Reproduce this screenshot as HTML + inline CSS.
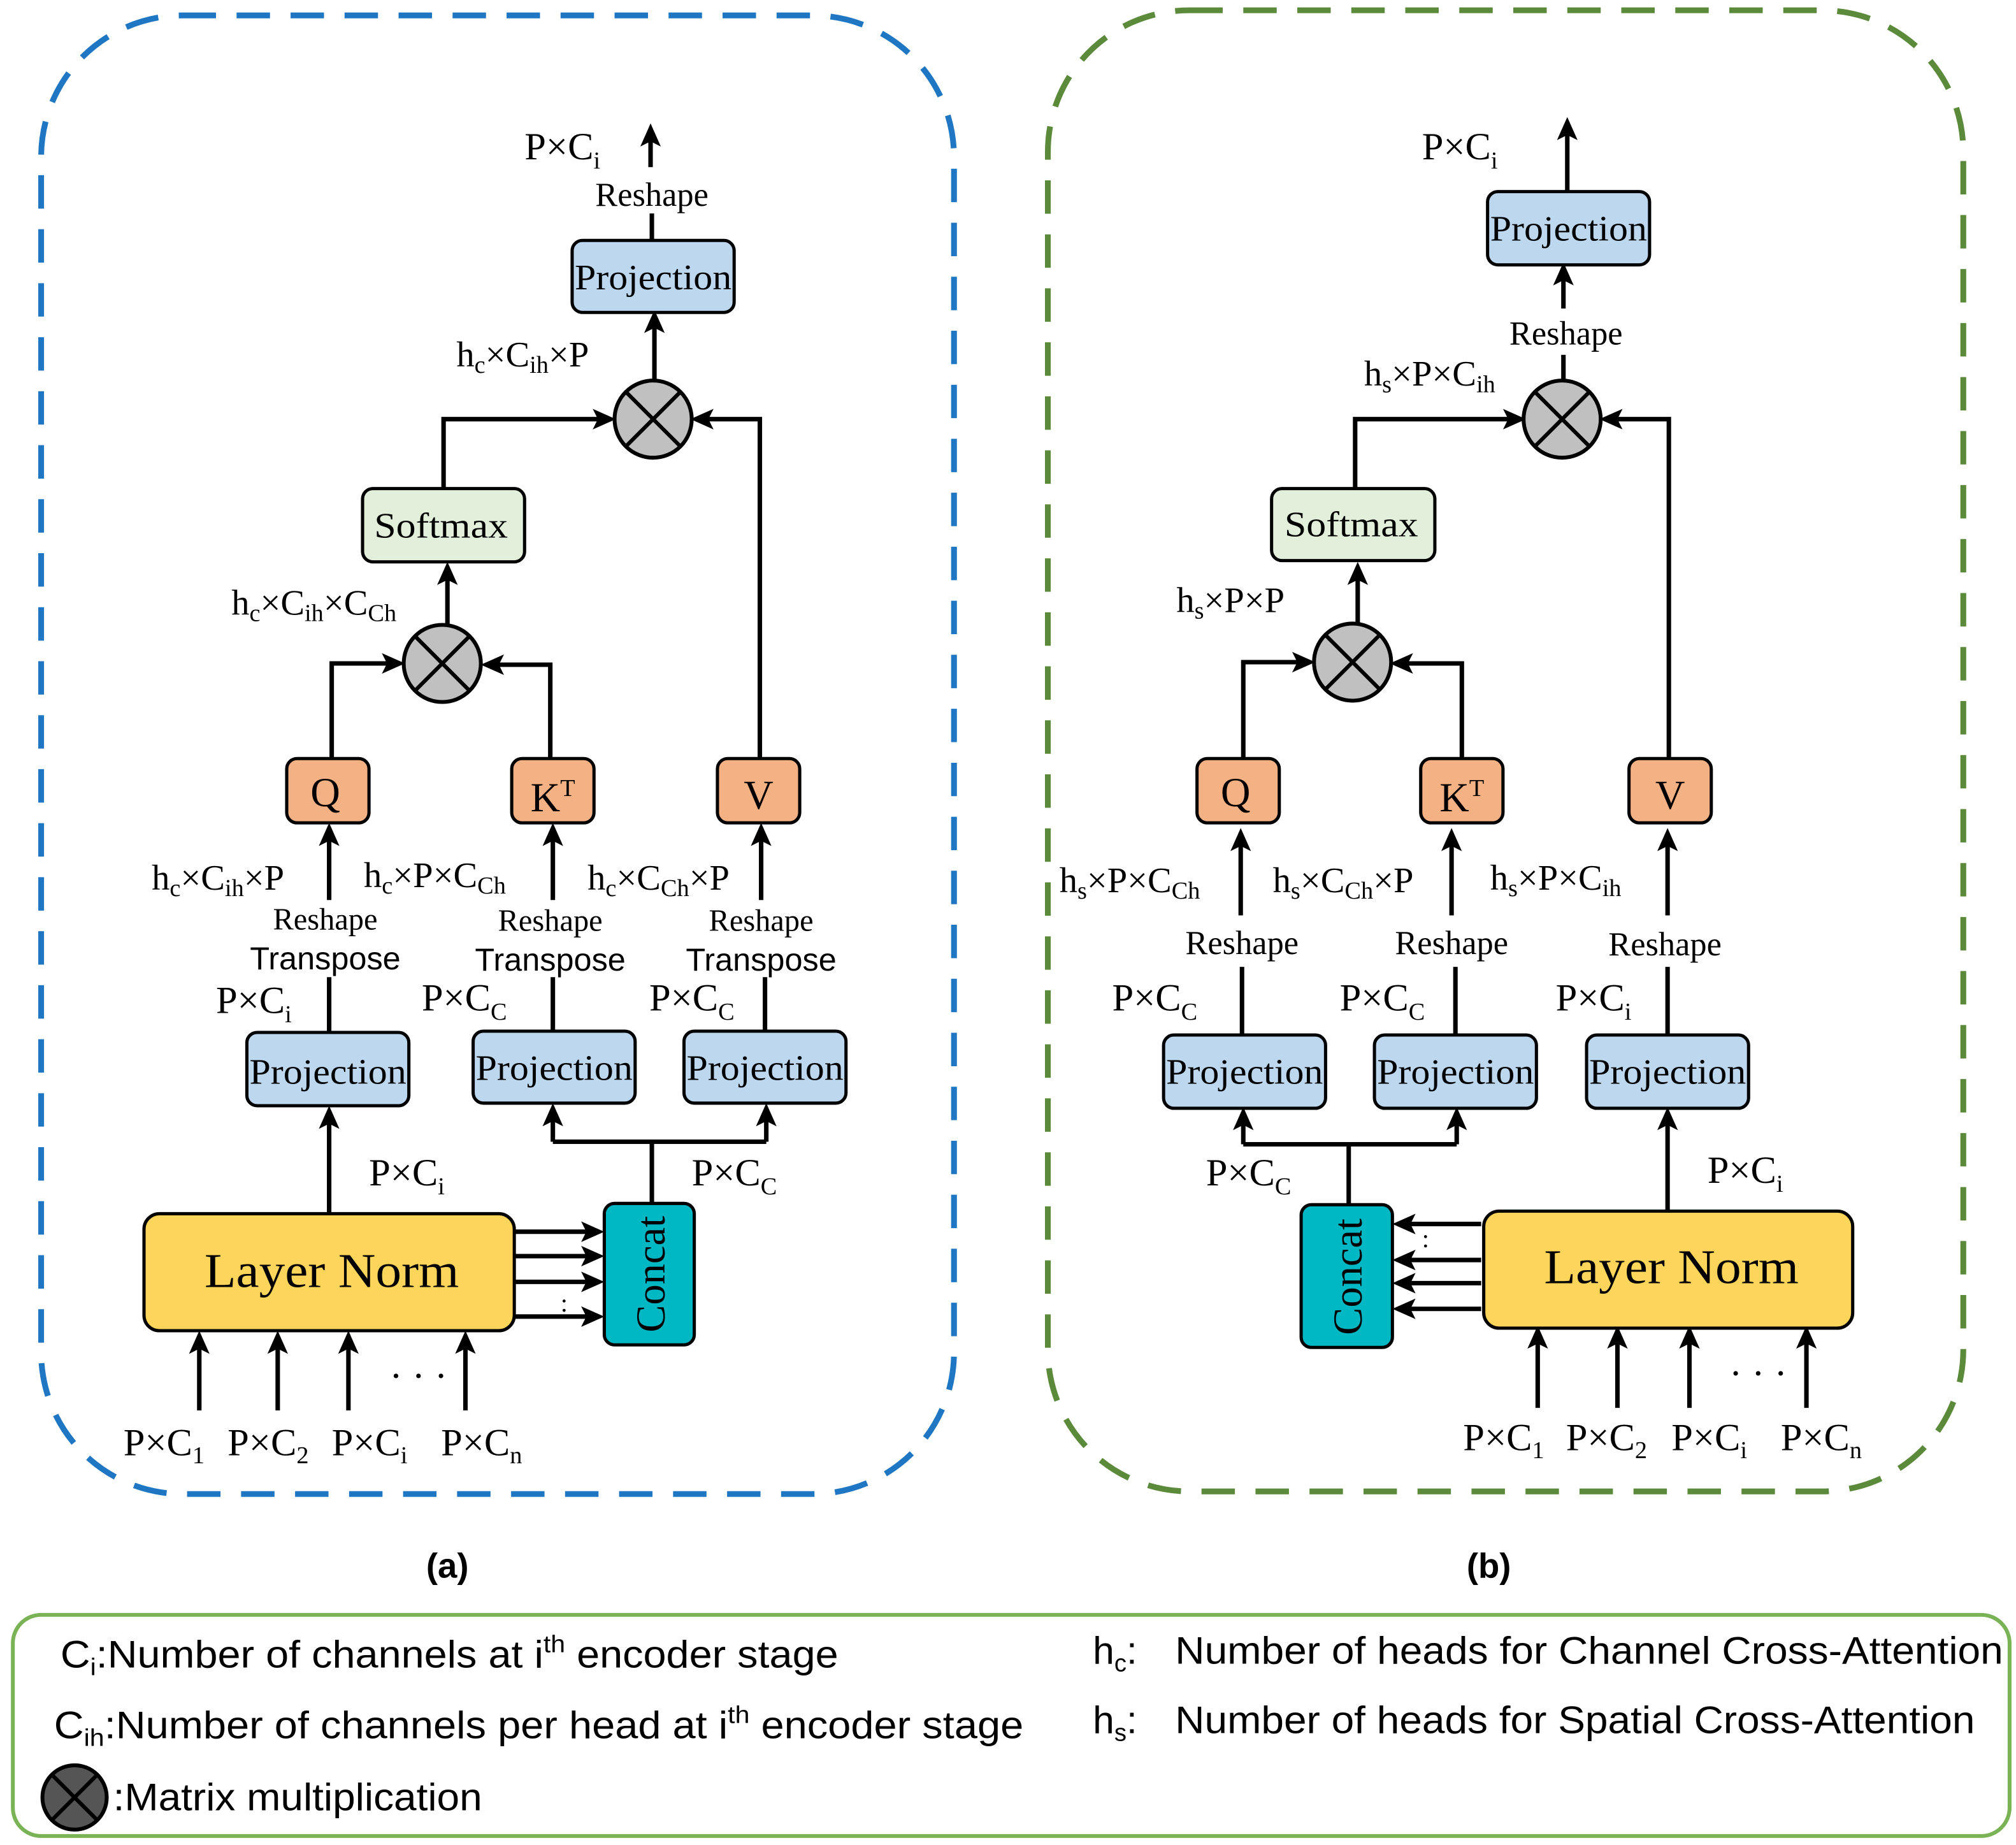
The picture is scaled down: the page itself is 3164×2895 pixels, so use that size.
<!DOCTYPE html>
<html><head><meta charset="utf-8"><style>
html,body{margin:0;padding:0;background:#fff;}
svg{display:block;}
.s{font-family:"Liberation Serif",serif;font-size:28px;fill:#000;}
.ss{font-family:"Liberation Sans",sans-serif;font-size:25px;fill:#000;}
.lg{font-family:"Liberation Sans",sans-serif;font-size:30px;fill:#000;}
.sub{font-size:19px;}
</style></head><body>
<svg width="3164" height="2895" viewBox="0 0 1568 1435" preserveAspectRatio="none" xmlns="http://www.w3.org/2000/svg">
<defs>
<marker id="ab" markerWidth="18" markerHeight="16" refX="14" refY="8" orient="auto" markerUnits="userSpaceOnUse"><path d="M0,0 L18,8 L0,16 L4,8 z" fill="#000"/></marker>
<g id="otimes"><circle r="30" fill="#c0c0c0" stroke="#000" stroke-width="3"/><path d="M-21,-21 L21,21 M-21,21 L21,-21" stroke="#000" stroke-width="3"/></g>
</defs>
<g fill="none" stroke-width="4.5">
<rect x="32" y="12" width="710" height="1150" rx="110" stroke="#1f77c4" stroke-dasharray="26 16"/>
<rect x="815" y="8" width="712" height="1152" rx="110" stroke="#5a8a3a" stroke-dasharray="26 16"/>
</g>
<rect x="10" y="1256" width="1553" height="172" rx="22" fill="none" stroke="#7ab356" stroke-width="3"/>

<g stroke="#000" stroke-width="3.5" fill="none" marker-end="url(#ab)">
<line x1="155" y1="1097" x2="155" y2="1039"/><line x1="216" y1="1097" x2="216" y2="1039"/>
<line x1="271" y1="1097" x2="271" y2="1039"/><line x1="362" y1="1097" x2="362" y2="1039"/>
<line x1="400" y1="958" x2="466" y2="958"/><line x1="400" y1="977" x2="466" y2="977"/>
<line x1="400" y1="997" x2="466" y2="997"/><line x1="400" y1="1024" x2="466" y2="1024"/>
<line x1="256" y1="944" x2="256" y2="864"/>
<line x1="430" y1="888" x2="430" y2="862"/><line x1="596" y1="888" x2="596" y2="862"/>
<line x1="256" y1="700" x2="256" y2="644"/><line x1="430" y1="700" x2="430" y2="644"/><line x1="592" y1="700" x2="592" y2="644"/>
<polyline points="258,590 258,516 311,516"/><polyline points="428,590 428,517 378,517"/>
<line x1="348" y1="486" x2="348" y2="441"/>
<polyline points="345,380 345,326 475,326"/><polyline points="591,590 591,326 541,326"/>
<line x1="509" y1="296" x2="509" y2="245"/>
<line x1="506" y1="130" x2="506" y2="100"/>
<line x1="1196" y1="1095" x2="1196" y2="1035"/><line x1="1258" y1="1095" x2="1258" y2="1035"/>
<line x1="1314" y1="1095" x2="1314" y2="1035"/><line x1="1405" y1="1095" x2="1405" y2="1035"/>
<line x1="1152" y1="952" x2="1087" y2="952"/><line x1="1152" y1="980" x2="1087" y2="980"/>
<line x1="1152" y1="998" x2="1087" y2="998"/><line x1="1152" y1="1018" x2="1087" y2="1018"/>
<line x1="1297" y1="942" x2="1297" y2="865"/>
<line x1="967" y1="890" x2="967" y2="865"/><line x1="1133" y1="890" x2="1133" y2="865"/>
<line x1="965" y1="712" x2="965" y2="648"/><line x1="1129" y1="712" x2="1129" y2="648"/><line x1="1297" y1="712" x2="1297" y2="648"/>
<polyline points="967,590 967,515 1019,515"/><polyline points="1137,590 1137,516 1085,516"/>
<line x1="1056" y1="485" x2="1056" y2="441"/>
<polyline points="1054,380 1054,326 1183,326"/><polyline points="1298,590 1298,326 1248,326"/>
<line x1="1216" y1="240" x2="1216" y2="208"/>
<line x1="1219" y1="149" x2="1219" y2="95"/>
</g>
<g stroke="#000" stroke-width="3.5" fill="none">
<polyline points="507,936 507,888 430,888 596,888"/>
<line x1="256" y1="803" x2="256" y2="760"/><line x1="430" y1="802" x2="430" y2="760"/><line x1="595" y1="802" x2="595" y2="760"/>
<line x1="507" y1="187" x2="507" y2="166"/>
<polyline points="1049,937 1049,890 967,890 1133,890"/>
<line x1="966" y1="805" x2="966" y2="752"/><line x1="1132" y1="805" x2="1132" y2="752"/><line x1="1297" y1="805" x2="1297" y2="752"/>
<line x1="1216" y1="296" x2="1216" y2="276"/>
</g>

<use href="#otimes" x="344" y="516"/><use href="#otimes" x="508" y="326"/>
<use href="#otimes" x="1052" y="515"/><use href="#otimes" x="1215" y="326"/>

<g stroke="#000" stroke-width="2.5">
<rect x="112" y="944" width="288" height="91" rx="12" fill="#fdd55a"/>
<rect x="470" y="936" width="70" height="110" rx="8" fill="#00b8c4"/>
<rect x="192" y="803" width="126" height="57" rx="8" fill="#bdd7ee"/>
<rect x="368" y="802" width="126" height="56" rx="8" fill="#bdd7ee"/>
<rect x="532" y="802" width="126" height="56" rx="8" fill="#bdd7ee"/>
<rect x="445" y="187" width="126" height="56" rx="8" fill="#bdd7ee"/>
<rect x="223" y="590" width="64" height="50" rx="8" fill="#f4b183"/>
<rect x="398" y="590" width="64" height="50" rx="8" fill="#f4b183"/>
<rect x="558" y="590" width="64" height="50" rx="8" fill="#f4b183"/>
<rect x="282" y="380" width="126" height="57" rx="8" fill="#e2efda"/>
<rect x="1154" y="942" width="287" height="91" rx="12" fill="#fdd55a"/>
<rect x="1012" y="937" width="71" height="111" rx="8" fill="#00b8c4"/>
<rect x="905" y="805" width="126" height="57" rx="8" fill="#bdd7ee"/>
<rect x="1069" y="805" width="126" height="57" rx="8" fill="#bdd7ee"/>
<rect x="1234" y="805" width="126" height="57" rx="8" fill="#bdd7ee"/>
<rect x="1157" y="149" width="126" height="57" rx="8" fill="#bdd7ee"/>
<rect x="931" y="590" width="64" height="50" rx="8" fill="#f4b183"/>
<rect x="1105" y="590" width="64" height="50" rx="8" fill="#f4b183"/>
<rect x="1267" y="590" width="64" height="50" rx="8" fill="#f4b183"/>
<rect x="989" y="380" width="127" height="56" rx="8" fill="#e2efda"/>
</g>

<g class="s" text-anchor="middle">
<text x="258" y="1001" font-size="38" textLength="198" lengthAdjust="spacingAndGlyphs">Layer Norm</text>
<text x="1300" y="998" font-size="38" textLength="198" lengthAdjust="spacingAndGlyphs">Layer Norm</text>
<text transform="translate(517,991) rotate(-90)" font-size="32">Concat</text>
<text transform="translate(1059,993) rotate(-90)" font-size="32">Concat</text>
<g font-size="28">
<text x="255" y="843" textLength="122" lengthAdjust="spacingAndGlyphs">Projection</text>
<text x="431" y="840" textLength="122" lengthAdjust="spacingAndGlyphs">Projection</text>
<text x="595" y="840" textLength="122" lengthAdjust="spacingAndGlyphs">Projection</text>
<text x="508" y="225" textLength="122" lengthAdjust="spacingAndGlyphs">Projection</text>
<text x="968" y="843" textLength="122" lengthAdjust="spacingAndGlyphs">Projection</text>
<text x="1132" y="843" textLength="122" lengthAdjust="spacingAndGlyphs">Projection</text>
<text x="1297" y="843" textLength="122" lengthAdjust="spacingAndGlyphs">Projection</text>
<text x="1220" y="187" textLength="122" lengthAdjust="spacingAndGlyphs">Projection</text>
</g>
<text x="343" y="418" font-size="28" textLength="104" lengthAdjust="spacingAndGlyphs">Softmax</text>
<text x="1051" y="417" font-size="28" textLength="104" lengthAdjust="spacingAndGlyphs">Softmax</text>
<text x="253" y="627" font-size="32">Q</text><text x="430" y="631" font-size="32">K<tspan dy="-12" font-size="19">T</tspan></text><text x="590" y="629" font-size="32">V</text>
<text x="961" y="627" font-size="32">Q</text><text x="1137" y="631" font-size="32">K<tspan dy="-12" font-size="19">T</tspan></text><text x="1299" y="629" font-size="32">V</text>
<text x="253" y="723" font-size="24">Reshape</text><text x="428" y="724" font-size="24">Reshape</text><text x="592" y="724" font-size="24">Reshape</text>
<text x="507" y="160" font-size="26">Reshape</text>
<text x="966" y="742" font-size="26">Reshape</text><text x="1129" y="742" font-size="26">Reshape</text><text x="1295" y="743" font-size="26">Reshape</text>
<text x="1218" y="268" font-size="26">Reshape</text>
</g>
<g class="ss" text-anchor="middle">
<text x="253" y="754">Transpose</text><text x="428" y="755">Transpose</text><text x="592" y="755">Transpose</text>
</g>
<g class="s">
<text x="96" y="1132" font-size="30">P×C<tspan class="sub" dy="6">1</tspan></text>
<text x="177" y="1132" font-size="30">P×C<tspan class="sub" dy="6">2</tspan></text>
<text x="258" y="1132" font-size="30">P×C<tspan class="sub" dy="6">i</tspan></text>
<text x="343" y="1132" font-size="30">P×C<tspan class="sub" dy="6">n</tspan></text>
<text x="303" y="1080" font-size="30">· · ·</text>
<text x="1138" y="1128" font-size="30">P×C<tspan class="sub" dy="6">1</tspan></text>
<text x="1218" y="1128" font-size="30">P×C<tspan class="sub" dy="6">2</tspan></text>
<text x="1300" y="1128" font-size="30">P×C<tspan class="sub" dy="6">i</tspan></text>
<text x="1385" y="1128" font-size="30">P×C<tspan class="sub" dy="6">n</tspan></text>
<text x="1345" y="1078" font-size="30">· · ·</text>
<text x="436" y="1020" font-size="20">:</text><text x="1106" y="970" font-size="20">:</text>
<text x="287" y="922" font-size="30">P×C<tspan class="sub" dy="7">i</tspan></text>
<text x="538" y="922" font-size="30">P×C<tspan class="sub" dy="7">C</tspan></text>
<text x="168" y="788" font-size="30">P×C<tspan class="sub" dy="7">i</tspan></text>
<text x="328" y="786" font-size="30">P×C<tspan class="sub" dy="7">C</tspan></text>
<text x="505" y="786" font-size="30">P×C<tspan class="sub" dy="7">C</tspan></text>
<text x="118" y="692">h<tspan class="sub" dy="5">c</tspan><tspan dy="-5">×C</tspan><tspan class="sub" dy="5">ih</tspan><tspan dy="-5">×P</tspan></text>
<text x="283" y="690">h<tspan class="sub" dy="5">c</tspan><tspan dy="-5">×P×C</tspan><tspan class="sub" dy="5">Ch</tspan></text>
<text x="457" y="692">h<tspan class="sub" dy="5">c</tspan><tspan dy="-5">×C</tspan><tspan class="sub" dy="5">Ch</tspan><tspan dy="-5">×P</tspan></text>
<text x="180" y="478">h<tspan class="sub" dy="5">c</tspan><tspan dy="-5">×C</tspan><tspan class="sub" dy="5">ih</tspan><tspan dy="-5">×C</tspan><tspan class="sub" dy="5">Ch</tspan></text>
<text x="355" y="285">h<tspan class="sub" dy="5">c</tspan><tspan dy="-5">×C</tspan><tspan class="sub" dy="5">ih</tspan><tspan dy="-5">×P</tspan></text>
<text x="408" y="124" font-size="30">P×C<tspan class="sub" dy="7">i</tspan></text>
<text x="1106" y="124" font-size="30">P×C<tspan class="sub" dy="7">i</tspan></text>
<text x="1061" y="300">h<tspan class="sub" dy="5">s</tspan><tspan dy="-5">×P×C</tspan><tspan class="sub" dy="5">ih</tspan></text>
<text x="915" y="476">h<tspan class="sub" dy="5">s</tspan><tspan dy="-5">×P×P</tspan></text>
<text x="824" y="694">h<tspan class="sub" dy="5">s</tspan><tspan dy="-5">×P×C</tspan><tspan class="sub" dy="5">Ch</tspan></text>
<text x="990" y="694">h<tspan class="sub" dy="5">s</tspan><tspan dy="-5">×C</tspan><tspan class="sub" dy="5">Ch</tspan><tspan dy="-5">×P</tspan></text>
<text x="1159" y="692">h<tspan class="sub" dy="5">s</tspan><tspan dy="-5">×P×C</tspan><tspan class="sub" dy="5">ih</tspan></text>
<text x="865" y="786" font-size="30">P×C<tspan class="sub" dy="7">C</tspan></text>
<text x="1042" y="786" font-size="30">P×C<tspan class="sub" dy="7">C</tspan></text>
<text x="1210" y="786" font-size="30">P×C<tspan class="sub" dy="7">i</tspan></text>
<text x="938" y="922" font-size="30">P×C<tspan class="sub" dy="7">C</tspan></text>
<text x="1328" y="920" font-size="30">P×C<tspan class="sub" dy="7">i</tspan></text>
</g>
<g font-family="Liberation Sans,sans-serif" font-weight="bold" font-size="27" text-anchor="middle">
<text x="348" y="1227">(a)</text><text x="1158" y="1227">(b)</text>
</g>
<g class="lg">
<text x="47" y="1297" textLength="605" lengthAdjust="spacingAndGlyphs">C<tspan class="sub" dy="6">i</tspan><tspan dy="-6">:Number of channels at i</tspan><tspan class="sub" dy="-12">th</tspan><tspan dy="12"> encoder stage</tspan></text>
<text x="42" y="1352" textLength="754" lengthAdjust="spacingAndGlyphs">C<tspan class="sub" dy="6">ih</tspan><tspan dy="-6">:Number of channels per head at i</tspan><tspan class="sub" dy="-12">th</tspan><tspan dy="12"> encoder stage</tspan></text>
<text x="88" y="1408" textLength="287" lengthAdjust="spacingAndGlyphs">:Matrix multiplication</text>
<text x="850" y="1294">h<tspan class="sub" dy="6">c</tspan><tspan dy="-6">:</tspan></text>
<text x="914" y="1294" textLength="644" lengthAdjust="spacingAndGlyphs">Number of heads for Channel Cross-Attention</text>
<text x="850" y="1348">h<tspan class="sub" dy="6">s</tspan><tspan dy="-6">:</tspan></text>
<text x="914" y="1348" textLength="622" lengthAdjust="spacingAndGlyphs">Number of heads for Spatial Cross-Attention</text>
</g>
<circle cx="58" cy="1398" r="25" fill="#555" stroke="#000" stroke-width="3"/>
<path d="M40,1380 L76,1416 M40,1416 L76,1380" stroke="#000" stroke-width="3"/>
</svg>
</body></html>
